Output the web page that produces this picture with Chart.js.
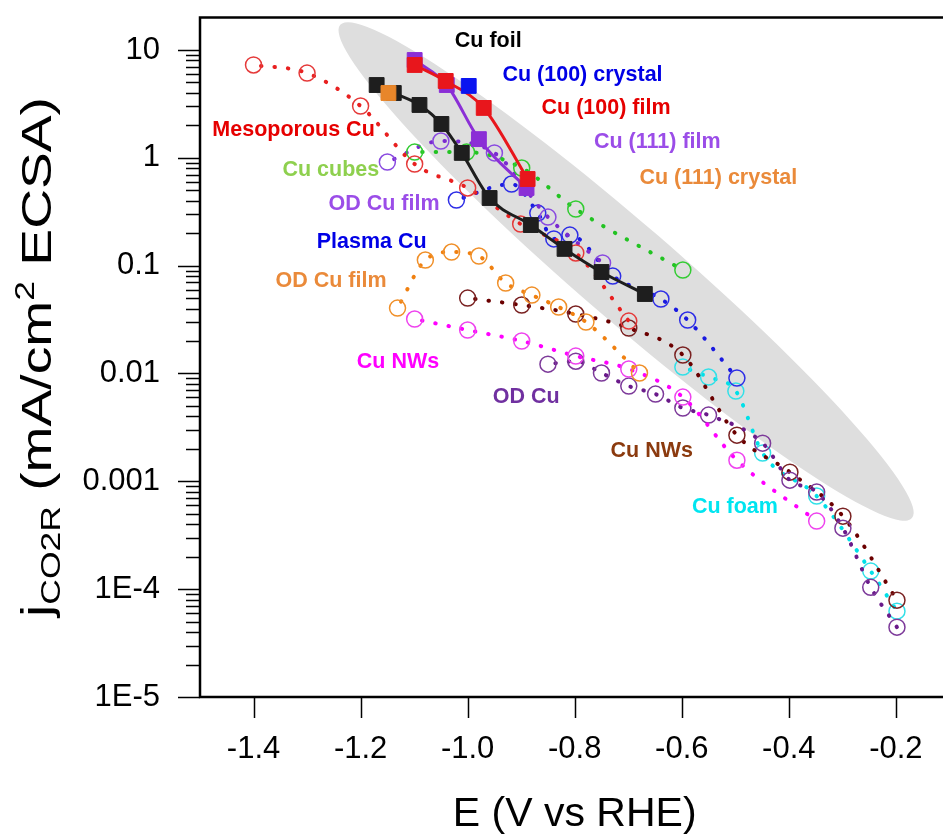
<!DOCTYPE html>
<html>
<head>
<meta charset="utf-8">
<title>jCO2R vs E</title>
<script src="https://cdn.jsdelivr.net/npm/chart.js@4.4.1/dist/chart.umd.min.js"></script>
<style>
  html, body { margin: 0; padding: 0; background: #fff; overflow: hidden; }
  #wrap { width: 943px; height: 836px; }
</style>
</head>
<body>
<div id="wrap"><canvas id="chart" width="943" height="836"></canvas></div>
<script>
// axis ticks
const xTickValues = [-1.4, -1.2, -1.0, -0.8, -0.6, -0.4, -0.2];
const xTickLabels = ["-1.4", "-1.2", "-1.0", "-0.8", "-0.6", "-0.4", "-0.2"];
const yTickValues = [10, 1, 0.1, 0.01, 0.001, 1e-4, 1e-5];
const yTickLabels = ["10", "1", "0.1", "0.01", "0.001", "1E-4", "1E-5"];

// filled-square series (solid lines)
const cuFoilE = [-1.17, -1.138, -1.09, -1.049, -1.011, -0.959, -0.882, -0.819, -0.75, -0.669];
const cuFoilJ = [4.73, 3.99, 3.09, 2.06, 1.11, 0.424, 0.238, 0.143, 0.0873, 0.0546];
const cu100FilmE = [-1.099, -1.041, -0.97, -0.888];
const cu100FilmJ = [7.26, 5.16, 2.9, 0.636];
const cu111FilmE = [-1.099, -1.039, -0.979, -0.89];
const cu111FilmJ = [8.07, 4.73, 1.49, 0.525];
const cu100CrystalE = [-0.998];
const cu100CrystalJ = [4.64];
const cu111CrystalE = [-1.148];
const cu111CrystalJ = [3.99];

// open-circle series (dotted lines)
const mesoE = [-1.4, -1.3, -1.2, -1.099, -1.0, -0.901, -0.798, -0.699];
const mesoJ = [7.26, 6.1, 3.02, 0.875, 0.525, 0.243, 0.131, 0.0306];
const cubesE = [-1.099, -1.002, -0.899, -0.798, -0.598];
const cubesJ = [1.13, 1.13, 0.804, 0.335, 0.091];
const odFilmPurpleE = [-1.15, -1.05, -0.95, -0.85, -0.748];
const odFilmPurpleJ = [0.914, 1.43, 1.11, 0.282, 0.106];
const plasmaE = [-1.021, -0.918, -0.869, -0.839, -0.809, -0.729, -0.639, -0.589, -0.497];
const plasmaJ = [0.406, 0.571, 0.307, 0.177, 0.192, 0.08, 0.049, 0.0313, 0.00906];
const odFilmOrangeE = [-1.131, -1.079, -1.03, -0.979, -0.929, -0.88, -0.83, -0.779, -0.679];
const odFilmOrangeJ = [0.0404, 0.1127, 0.1337, 0.1227, 0.069, 0.0533, 0.0413, 0.03, 0.0101];
const nwsMagentaE = [-1.099, -1.0, -0.899, -0.798, -0.699, -0.598, -0.497, -0.348];
const nwsMagentaJ = [0.032, 0.0253, 0.02, 0.0145, 0.011, 0.00604, 0.00157, 0.000428];
const odCuE = [-0.85, -0.798, -0.75, -0.699, -0.649, -0.598, -0.55, -0.449, -0.398, -0.348, -0.299, -0.247, -0.198];
const odCuJ = [0.0122, 0.013, 0.0101, 0.00764, 0.00644, 0.00478, 0.00411, 0.00226, 0.001025, 0.000794, 0.000368, 0.000104, 0.0000444];
const nwsBrownE = [-1.0, -0.899, -0.798, -0.699, -0.598, -0.497, -0.398, -0.299, -0.198];
const nwsBrownJ = [0.05, 0.0431, 0.0356, 0.0264, 0.01483, 0.00268, 0.001216, 0.000475, 0.0000791];
const foamE = [-0.598, -0.55, -0.499, -0.449, -0.348, -0.247, -0.198];
const foamJ = [0.01146, 0.00927, 0.00687, 0.00183, 0.00073, 0.000147, 0.0000625];

// series names written on the plot, anchored in data coordinates
const noteTexts = ["Cu foil", "Cu (100) crystal", "Cu (100) film", "Cu (111) film", "Cu (111) crystal",
  "Mesoporous Cu", "Cu cubes", "OD Cu film", "Plasma Cu", "OD Cu film", "Cu NWs", "OD Cu", "Cu NWs", "Cu foam"];
const noteE = [-1.024, -0.935, -0.862, -0.764, -0.679, -1.477, -1.346, -1.26, -1.282, -1.359, -1.207, -0.953, -0.733, -0.581];
const noteJ = [12.1, 5.86, 2.9, 1.4, 0.65, 1.81, 0.77, 0.372, 0.1655, 0.072, 0.01276, 0.00604, 0.0019, 0.000577];
const noteColors = ["#000000", "#0000e6", "#e60000", "#9b4de8", "#ea8a3a", "#e60000", "#8ed04e", "#9b4de8",
  "#0000e6", "#ea8a3a", "#ff00ff", "#7030a0", "#8b3a0e", "#00e5f0"];

// grey band, given by its two tips
const bandTipA = [-1.238, 17.1];
const bandTipB = [-0.17, 0.000456];

const pts = (xs, ys) => xs.map((x, i) => ({ x, y: ys[i] }));

const squareSet = (label, xs, ys, color, withLine) => ({
	label,
	data: pts(xs, ys),
	showLine: withLine,
	borderColor: color,
	borderWidth: 3,
	cubicInterpolationMode: "monotone",
	pointStyle: "rect",
	pointRadius: 10.5,
	pointBackgroundColor: color,
	pointBorderColor: color,
	pointBorderWidth: 1,
});

const circleSet = (label, xs, ys, color, dotColor) => ({
	label,
	data: pts(xs, ys),
	showLine: true,
	borderColor: dotColor,
	borderWidth: 4,
	borderDash: [0.5, 13],
	borderDashOffset: 6,
	borderCapStyle: "round",
	cubicInterpolationMode: "monotone",
	pointStyle: "circle",
	pointRadius: 8,
	pointBackgroundColor: "rgba(0,0,0,0)",
	pointBorderColor: color,
	pointBorderWidth: 1.5,
});

const datasets = [
	squareSet("Cu (111) crystal", cu111CrystalE, cu111CrystalJ, "#e8862a", false),
	squareSet("Cu (100) crystal", cu100CrystalE, cu100CrystalJ, "#0a14f0", false),
	squareSet("Cu (100) film", cu100FilmE, cu100FilmJ, "#e8161c", true),
	squareSet("Cu (111) film", cu111FilmE, cu111FilmJ, "#8b2fd6", true),
	squareSet("Cu foil", cuFoilE, cuFoilJ, "#1e1e1e", true),
	circleSet("Mesoporous Cu", mesoE, mesoJ, "#e53a3a", "#e82020"),
	circleSet("Cu cubes", cubesE, cubesJ, "#33cc33", "#22c322"),
	circleSet("OD Cu film", odFilmPurpleE, odFilmPurpleJ, "#8a4ae0", "#7a2ad0"),
	circleSet("Plasma Cu", plasmaE, plasmaJ, "#2e2ee6", "#1a1ae0"),
	circleSet("OD Cu film (2)", odFilmOrangeE, odFilmOrangeJ, "#f0902a", "#f08010"),
	circleSet("Cu NWs", nwsMagentaE, nwsMagentaJ, "#ee44ee", "#ff00ff"),
	circleSet("OD Cu", odCuE, odCuJ, "#7d3a9a", "#6a1a8a"),
	circleSet("Cu NWs (2)", nwsBrownE, nwsBrownJ, "#7a2222", "#6b0000"),
	circleSet("Cu foam", foamE, foamJ, "#33e0e8", "#00e0e8"),
];

const isDecade = (v) => Math.abs(Math.log10(v) - Math.round(Math.log10(v))) < 1e-9;

const decorPlugin = {
	id: "decor",
	beforeDatasetsDraw(chart) {
		const { ctx, chartArea: a, scales } = chart;
		const x1 = scales.x.getPixelForValue(bandTipA[0]);
		const y1 = scales.y.getPixelForValue(bandTipA[1]);
		const x2 = scales.x.getPixelForValue(bandTipB[0]);
		const y2 = scales.y.getPixelForValue(bandTipB[1]);
		ctx.save();
		ctx.beginPath();
		ctx.rect(a.left, a.top, a.right - a.left, a.bottom - a.top);
		ctx.clip();
		ctx.fillStyle = "#dedede";
		ctx.beginPath();
		ctx.ellipse((x1 + x2) / 2, (y1 + y2) / 2, Math.hypot(x2 - x1, y2 - y1) / 2, 48,
			Math.atan2(y2 - y1, x2 - x1), 0, Math.PI * 2);
		ctx.fill();
		ctx.restore();
	},
	afterDatasetsDraw(chart) {
		const { ctx, scales } = chart;
		ctx.save();
		ctx.font = "bold 21.5px 'Liberation Sans', Arial, sans-serif";
		ctx.textAlign = "left";
		ctx.textBaseline = "middle";
		noteTexts.forEach((t, i) => {
			ctx.fillStyle = noteColors[i];
			ctx.fillText(t, scales.x.getPixelForValue(noteE[i]), scales.y.getPixelForValue(noteJ[i]));
		});
		ctx.restore();
	},
	afterDraw(chart) {
		const { ctx, chartArea: a, scales } = chart;
		ctx.save();
		ctx.strokeStyle = "#000";
		// frame: the right side lies past the picture edge
		ctx.lineWidth = 2.5;
		ctx.beginPath();
		ctx.moveTo(chart.width, a.top);
		ctx.lineTo(a.left, a.top);
		ctx.lineTo(a.left, a.bottom);
		ctx.lineTo(chart.width, a.bottom);
		ctx.stroke();
		// ticks
		ctx.lineWidth = 1.5;
		ctx.beginPath();
		scales.y.ticks.forEach((t) => {
			const py = Math.round(scales.y.getPixelForValue(t.value)) + 0.5;
			const len = isDecade(t.value) ? 22 : 14;
			ctx.moveTo(a.left - len, py);
			ctx.lineTo(a.left, py);
		});
		xTickValues.forEach((v) => {
			const px = Math.round(scales.x.getPixelForValue(v)) + 0.5;
			ctx.moveTo(px, a.bottom);
			ctx.lineTo(px, a.bottom + 21);
		});
		ctx.stroke();

		// x title
		ctx.fillStyle = "#000";
		ctx.font = "41px 'Liberation Sans', Arial, sans-serif";
		ctx.textAlign = "center";
		ctx.textBaseline = "alphabetic";
		ctx.fillText("E (V vs RHE)", scales.x.getPixelForValue(-0.8), 826);

		// y title with subscript and superscript
		const big = "42px 'Liberation Sans', Arial, sans-serif";
		const small = "27px 'Liberation Sans', Arial, sans-serif";
		const parts = [
			["j", big, 0],
			["CO2R", small, 9],
			[" (mA/cm", big, 0],
			["2", small, -17],
			[" ECSA)", big, 0],
		];
		let total = 0;
		parts.forEach((p) => { ctx.font = p[1]; p.push(ctx.measureText(p[0]).width); total += p[3]; });
		ctx.translate(51, 357);
		ctx.rotate(-Math.PI / 2);
		ctx.scale(520 / total, 1);
		ctx.textAlign = "left";
		let cx = -total / 2;
		parts.forEach((p) => {
			ctx.font = p[1];
			ctx.fillText(p[0], cx, p[2]);
			cx += p[3];
		});
		ctx.restore();
	},
};

new Chart(document.getElementById("chart"), {
	type: "line",
	data: { datasets },
	options: {
		responsive: false,
		animation: false,
		devicePixelRatio: 1,
		layout: { autoPadding: false, padding: { top: 17.5, right: 0, left: 0, bottom: 0 } },
		plugins: { legend: { display: false }, tooltip: { enabled: false } },
		scales: {
			x: {
				type: "linear",
				min: -1.5,
				max: -0.112,
				grid: { display: false, drawTicks: false },
				border: { display: false },
				afterBuildTicks: (s) => { s.ticks = xTickValues.map((v) => ({ value: v })); },
				afterFit: (s) => {
					s.height = 139;
					s.paddingLeft = 0;
					s.paddingRight = 0;
				},
				ticks: {
					autoSkip: false,
					maxRotation: 0,
					padding: 34,
					color: "#000",
					font: { family: "'Liberation Sans', Arial, sans-serif", size: 31 },
					callback: (v) => xTickLabels[xTickValues.findIndex((t) => Math.abs(t - v) < 1e-9)] ?? "",
				},
			},
			y: {
				type: "logarithmic",
				min: 1e-5,
				max: 20,
				grid: { display: false, drawTicks: false },
				border: { display: false },
				afterBuildTicks: (s) => {
					const ticks = [];
					for (let e = -5; e <= 1; e++) {
						for (let m = 1; m <= 9; m++) {
							const v = m * Math.pow(10, e);
							if (v <= 10 + 1e-9) ticks.push({ value: v });
						}
					}
					s.ticks = ticks;
				},
				afterFit: (s) => {
					s.width = 200;
					s.paddingTop = 0;
					s.paddingBottom = 0;
				},
				ticks: {
					autoSkip: false,
					padding: 40,
					color: "#000",
					font: { family: "'Liberation Sans', Arial, sans-serif", size: 31 },
					callback: (v) => {
						const i = yTickValues.findIndex((t) => Math.abs(Math.log10(t) - Math.log10(v)) < 1e-6);
						return i >= 0 ? yTickLabels[i] : "";
					},
				},
			},
		},
	},
	plugins: [decorPlugin],
});
</script>
</body>
</html>
